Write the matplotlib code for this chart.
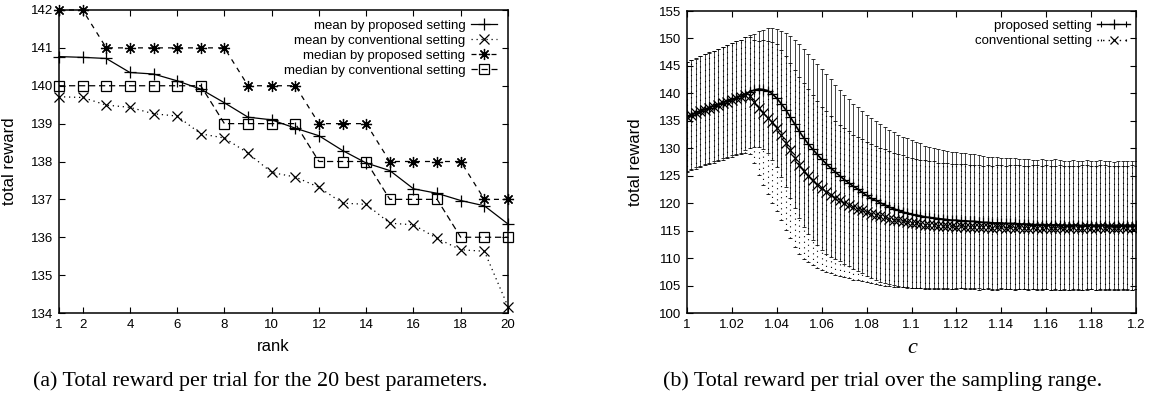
import numpy as np
import matplotlib.pyplot as plt
from matplotlib.lines import Line2D
from matplotlib.legend_handler import HandlerLine2D, HandlerTuple
from matplotlib.ticker import FuncFormatter

plt.rcParams['font.family'] = ['Liberation Sans', 'DejaVu Sans']

# (a) total reward per trial for the 20 best parameters
rank = np.arange(1, 21)
mean_proposed = [140.77, 140.75, 140.72, 140.35, 140.31, 140.13, 139.91, 139.55, 139.17, 139.10,
                 138.88, 138.68, 138.29, 137.96, 137.76, 137.28, 137.16, 136.97, 136.83, 136.35]
mean_conventional = [139.71, 139.69, 139.49, 139.43, 139.26, 139.20, 138.73, 138.62, 138.22, 137.71,
                     137.59, 137.32, 136.90, 136.87, 136.37, 136.33, 135.97, 135.67, 135.63, 134.17]
median_proposed = [142, 142, 141, 141, 141, 141, 141, 141, 140, 140,
                   140, 139, 139, 139, 138, 138, 138, 138, 137, 137]
median_conventional = [140, 140, 140, 140, 140, 140, 140, 139, 139, 139,
                       139, 138, 138, 138, 137, 137, 137, 136, 136, 136]

# (b) total reward per trial over the sampling range of c
c_values = np.round(np.linspace(1.0, 1.2, 101), 3)
proposed_mean = [
    135.8, 136.1, 136.4, 136.8, 137.1, 137.4, 137.7, 138.0, 138.3, 138.6,
    138.9, 139.2, 139.5, 139.9, 140.3, 140.6, 140.8, 140.7, 140.5, 139.9,
    139.1, 138.1, 137.0, 135.7, 134.4, 133.1, 131.9, 130.8, 129.8, 128.9,
    128.0, 127.2, 126.4, 125.7, 125.0, 124.3, 123.7, 123.1, 122.6, 122.0,
    121.4, 120.9, 120.5, 120.1, 119.7, 119.3, 119.0, 118.7, 118.4, 118.2,
    118.0, 117.8, 117.7, 117.5, 117.4, 117.3, 117.2, 117.1, 117.0, 116.9,
    116.9, 116.8, 116.8, 116.7, 116.7, 116.6, 116.5, 116.5, 116.4, 116.4,
    116.4, 116.3, 116.3, 116.3, 116.2, 116.2, 116.2, 116.1, 116.1, 116.1,
    116.1, 116.0, 116.1, 116.0, 116.0, 115.9, 116.0, 116.0, 115.9, 116.0,
    116.0, 115.9, 116.0, 116.0, 115.9, 115.9, 116.0, 115.9, 116.0, 115.9,
    116.0]
proposed_std = [
    9.9, 9.9, 9.9, 10.0, 10.0, 10.0, 10.0, 10.1, 10.1, 10.2,
    10.2, 10.3, 10.3, 10.3, 10.3, 10.3, 10.5, 10.9, 11.4, 12.0,
    12.6, 13.3, 14.0, 14.7, 15.3, 15.8, 16.2, 16.4, 16.5, 16.5,
    16.5, 16.4, 16.2, 15.9, 15.6, 15.4, 15.2, 15.0, 14.9, 14.8,
    14.7, 14.6, 14.5, 14.4, 14.2, 14.0, 13.9, 13.8, 13.7, 13.6,
    13.5, 13.3, 13.2, 13.0, 12.9, 12.8, 12.7, 12.6, 12.5, 12.5,
    12.4, 12.3, 12.3, 12.2, 12.2, 12.1, 12.1, 12.0, 12.0, 12.0,
    11.9, 11.9, 12.0, 11.9, 11.8, 11.9, 11.9, 11.8, 11.8, 11.9,
    11.8, 11.8, 11.9, 11.8, 11.7, 11.8, 11.8, 11.7, 11.8, 11.8,
    11.7, 11.7, 11.8, 11.7, 11.7, 11.6, 11.7, 11.7, 11.6, 11.7,
    11.7]
conventional_mean = [
    135.7, 136.0, 136.4, 136.7, 137.0, 137.3, 137.6, 137.9, 138.2, 138.5,
    138.8, 139.1, 139.4, 139.7, 139.6, 138.5, 137.4, 136.5, 135.6, 134.7,
    133.7, 132.4, 131.0, 129.6, 128.2, 126.9, 125.9, 125.0, 124.2, 123.4,
    122.7, 122.1, 121.5, 121.0, 120.5, 120.1, 119.7, 119.3, 119.0, 118.7,
    118.4, 118.1, 117.9, 117.6, 117.4, 117.2, 117.0, 116.9, 116.7, 116.6,
    116.4, 116.3, 116.2, 116.1, 116.0, 116.0, 115.9, 115.9, 115.8, 115.8,
    115.7, 115.8, 115.7, 115.6, 115.7, 115.6, 115.6, 115.7, 115.5, 115.6,
    115.6, 115.5, 115.6, 115.5, 115.6, 115.5, 115.5, 115.6, 115.5, 115.5,
    115.6, 115.5, 115.5, 115.6, 115.5, 115.5, 115.6, 115.5, 115.5, 115.6,
    115.5, 115.5, 115.6, 115.5, 115.6, 115.5, 115.5, 115.6, 115.5, 115.5,
    115.6]
conventional_std = [
    10.0, 10.0, 10.1, 10.1, 10.1, 10.2, 10.2, 10.2, 10.3, 10.3,
    10.3, 10.4, 10.4, 10.5, 10.6, 11.2, 12.2, 13.2, 14.0, 14.7,
    15.2, 15.5, 15.8, 16.0, 16.1, 16.1, 16.0, 15.8, 15.5, 15.2,
    14.9, 14.6, 14.3, 14.0, 13.8, 13.6, 13.4, 13.2, 13.0, 12.9,
    12.8, 12.7, 12.6, 12.5, 12.4, 12.3, 12.2, 12.1, 12.0, 11.9,
    11.9, 11.8, 11.7, 11.7, 11.6, 11.6, 11.5, 11.5, 11.5, 11.4,
    11.4, 11.3, 11.4, 11.3, 11.3, 11.4, 11.2, 11.3, 11.3, 11.4,
    11.3, 11.2, 11.3, 11.4, 11.3, 11.2, 11.3, 11.3, 11.4, 11.2,
    11.3, 11.3, 11.2, 11.4, 11.3, 11.3, 11.2, 11.3, 11.4, 11.3,
    11.2, 11.3, 11.3, 11.4, 11.2, 11.3, 11.3, 11.2, 11.3, 11.4,
    11.2]

W, H = 1151, 398
fig = plt.figure(figsize=(W / 100, H / 100), dpi=100)
ax1 = fig.add_axes([59 / W, 1 - 313 / H, 449 / W, 303 / H])
ax2 = fig.add_axes([687 / W, 1 - 313 / H, 449 / W, 302 / H])


def gnuplot_frame(ax):
    ax.tick_params(direction='in', top=True, right=True, length=4, width=0.8,
                   labelsize=9.5, pad=4)
    for sp in ax.spines.values():
        sp.set_linewidth(1.1)


# ---- left panel ----
asterisk = (8, 2, 0)
ax1.plot(rank, mean_proposed, color='black', lw=0.9, marker='+', ms=8, mew=0.9,
         clip_on=False, label='mean by proposed setting')
ax1.plot(rank, mean_conventional, color='black', lw=0.9, ls=(0, (1, 3)), marker='x', ms=6.5,
         mew=0.9, clip_on=False, label='mean by conventional setting')
ax1.plot(rank, median_proposed, color='black', lw=0.9, ls=(0, (4, 4)), marker=asterisk, ms=8,
         mew=0.9, clip_on=False, label='median by proposed setting')
ax1.plot(rank, median_conventional, color='black', lw=0.9, ls=(0, (5, 3)), marker='s', ms=7,
         mfc='none', mew=0.9, clip_on=False, label='median by conventional setting')

ax1.set_xlim(1, 20)
ax1.set_ylim(134, 142)
ax1.set_xticks([1, 2, 4, 6, 8, 10, 12, 14, 16, 18, 20])
ax1.set_yticks(range(134, 143))
gnuplot_frame(ax1)
ax1.set_xlabel('rank', fontsize=12)
ax1.set_ylabel('total reward', fontsize=12)
ax1.xaxis.set_label_coords(0.477, -0.085)
ax1.yaxis.set_label_coords(-0.094, 0.5)
ax1.legend(loc='upper right', bbox_to_anchor=(0.976, 0.968), frameon=False, fontsize=9.5,
           markerfirst=False, handlelength=2.0, handletextpad=0.4, labelspacing=0.2,
           borderaxespad=0, borderpad=0)

# ---- right panel ----
eb_p = ax2.errorbar(c_values, proposed_mean, yerr=proposed_std, fmt='none', ecolor='#111111',
                    elinewidth=0.55, capsize=1.3, capthick=0.6)
eb_c = ax2.errorbar(c_values, conventional_mean, yerr=conventional_std, fmt='none',
                    ecolor='black', elinewidth=0.8, capsize=1.3, capthick=0.6)
eb_c[2][0].set_linestyle((0, (1, 4)))
ax2.plot(c_values, proposed_mean, color='black', lw=1.2, marker='+', ms=6.5, mew=0.9)
ax2.plot(c_values, conventional_mean, color='black', lw=1.0, ls=(0, (1, 2)), marker='x', ms=7,
         mew=0.9)

ax2.set_xlim(1.0, 1.2)
ax2.set_ylim(100, 155)
ax2.set_xticks(np.round(np.arange(1.0, 1.2001, 0.02), 2))
ax2.set_yticks(range(100, 156, 5))
ax2.xaxis.set_major_formatter(FuncFormatter(lambda v, _: f'{v:g}'))
gnuplot_frame(ax2)
ax2.set_ylabel('total reward', fontsize=12)
ax2.yaxis.set_label_coords(-0.098, 0.5)
ax2.set_xlabel('c', fontsize=16, family='Liberation Serif', style='italic')
ax2.xaxis.set_label_coords(0.501, -0.085)

# legend samples drawn like horizontal error bars
h_prop = Line2D([], [], color='black', lw=1.0, marker='+', ms=7, mew=0.9)
cap_prop = Line2D([], [], color='black', lw=0, marker='|', ms=5, mew=0.8)
h_conv = Line2D([], [], color='black', lw=1.0, ls=(0, (1, 3)), marker='x', ms=6, mew=0.9)
cap_conv = Line2D([], [], color='black', lw=0, marker='|', ms=2, mew=0.8)
ax2.legend([(h_prop, cap_prop), (h_conv, cap_conv)], ['proposed setting', 'conventional setting'],
           handler_map={cap_prop: HandlerLine2D(numpoints=2), cap_conv: HandlerLine2D(numpoints=2),
                        tuple: HandlerTuple(ndivide=1, pad=0)},
           loc='upper right', bbox_to_anchor=(0.987, 0.972), frameon=False, fontsize=9.5,
           markerfirst=False, handlelength=2.5, handletextpad=0.4, labelspacing=0.25,
           borderaxespad=0, borderpad=0)

# captions
cap_kw = dict(ha='center', va='center', family='Liberation Serif', fontsize=15.8)
fig.text(260 / W, 1 - 381 / H, '(a) Total reward per trial for the 20 best parameters.', **cap_kw)
fig.text(883 / W, 1 - 381 / H, '(b) Total reward per trial over the sampling range.', **cap_kw)

fig.savefig('out.png', dpi=100, facecolor='white')
